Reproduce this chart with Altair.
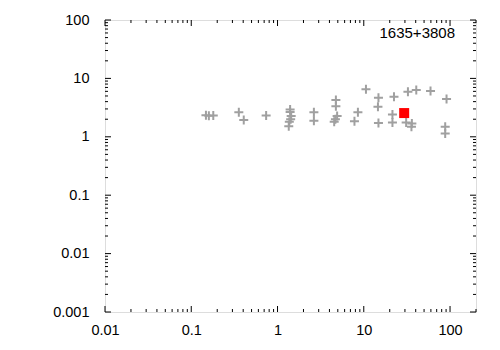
import altair as alt
import pandas as pd

# data points (gray plus markers)
xs = [0.148, 0.160, 0.180, 0.356, 0.406, 0.738, 1.40, 1.40, 1.44, 1.42, 1.37, 1.35,
      2.64, 2.64, 4.75, 4.75, 4.91, 4.69, 4.54, 8.55, 7.80, 10.6, 14.8, 14.6, 14.8,
      22.4, 21.5, 21.5, 32.5, 40.6, 59.4, 91.1, 31.0, 36.1, 35.7, 87.9, 87.9]
ys = [2.35, 2.29, 2.32, 2.62, 1.93, 2.32, 2.94, 2.65, 2.26, 1.99, 1.81, 1.52,
      2.62, 1.88, 4.25, 3.35, 2.26, 1.99, 1.81, 2.62, 1.85, 6.49, 4.66, 3.27, 1.73,
      4.84, 2.42, 1.76, 5.90, 6.31, 6.07, 4.43, 1.76, 1.69, 1.48, 1.48, 1.14]

# highlighted source
red_x = [29.4]
red_y = [2.55]

label = "1635+3808"

x_major = [0.01, 0.1, 1, 10, 100]
y_major = [0.001, 0.01, 0.1, 1, 10, 100]
x_minor = [m * d for d in [0.01, 0.1, 1, 10, 100] for m in range(2, 10) if m * d <= 200]
y_minor = [m * d for d in [0.001, 0.01, 0.1, 1, 10] for m in range(2, 10)]

W, H = 371, 292
FONT = "Liberation Sans"

xscale = alt.Scale(type="log", domain=[0.01, 200], nice=False)
yscale = alt.Scale(type="log", domain=[0.001, 100], nice=False)

pts = pd.DataFrame({"x": xs, "y": ys})
red = pd.DataFrame({"x": red_x, "y": red_y})

plus = "M-1,0H1M0,-1V1"

base_x = alt.X("x:Q", scale=xscale,
               axis=alt.Axis(values=x_major, format="~g", tickSize=0, domain=False,
                             grid=False, labelPadding=11, labelFontSize=14.5,
                             labelFont=FONT, labelColor="#000000",
                             title=None, labelFlush=False))
base_y = alt.Y("y:Q", scale=yscale,
               axis=alt.Axis(values=y_major, format="~g", tickSize=0, domain=False,
                             grid=False, labelPadding=16, labelFontSize=14.5,
                             labelFont=FONT, labelColor="#000000",
                             title=None, labelFlush=False))

points = alt.Chart(pts).mark_point(
    shape=plus, filled=False, stroke="#a0a0a0", strokeWidth=2, size=81, opacity=1
).encode(x=base_x, y=base_y)

redmark = alt.Chart(red).mark_point(
    shape="square", filled=True, color="#ff0000", size=100, opacity=1
).encode(x=alt.X("x:Q", scale=xscale), y=alt.Y("y:Q", scale=yscale))

def xticks(vals, length):
    df = pd.DataFrame({"x": vals})
    bottom = alt.Chart(df).mark_rule(color="black", strokeWidth=1).encode(
        x=alt.X("x:Q", scale=xscale), y=alt.value(H), y2=alt.value(H - length))
    top = alt.Chart(df).mark_rule(color="black", strokeWidth=1).encode(
        x=alt.X("x:Q", scale=xscale), y=alt.value(0), y2=alt.value(length))
    return bottom + top

def yticks(vals, length):
    df = pd.DataFrame({"y": vals})
    left = alt.Chart(df).mark_rule(color="black", strokeWidth=1).encode(
        y=alt.Y("y:Q", scale=yscale), x=alt.value(0), x2=alt.value(length))
    right = alt.Chart(df).mark_rule(color="black", strokeWidth=1).encode(
        y=alt.Y("y:Q", scale=yscale), x=alt.value(W), x2=alt.value(W - length))
    return left + right

title = alt.Chart(pd.DataFrame({"t": [label]})).mark_text(
    align="right", baseline="middle", fontSize=15, font=FONT, color="#000000"
).encode(text="t:N", x=alt.value(350), y=alt.value(13))

chart = alt.layer(
    points, redmark,
    xticks(x_major, 6), xticks(x_minor, 3),
    yticks(y_major, 6), yticks(y_minor, 3),
    title
).properties(
    width=W, height=H,
    autosize=alt.AutoSizeParams(type="none"),
    padding={"left": 105, "top": 20, "right": 24, "bottom": 38},
).configure_view(stroke="black", strokeWidth=1).configure(background="white")

chart.save("out.html", embed_options={"renderer": "svg", "actions": False})
